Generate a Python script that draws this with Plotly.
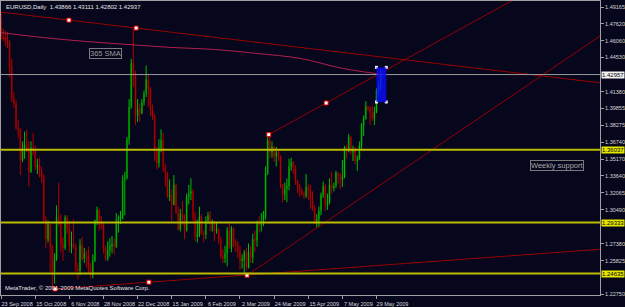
import plotly.graph_objects as go

# ---------------- data ----------------
tick_bars = [0, 16, 32, 48, 64, 80, 96, 112, 128, 144, 160, 176]
tick_dates = ["23 Sep 2008", "15 Oct 2008", "6 Nov 2008", "28 Nov 2008", "22 Dec 2008",
              "15 Jan 2009", "6 Feb 2009", "2 Mar 2009", "24 Mar 2009", "15 Apr 2009",
              "7 May 2009", "29 May 2009"]

opens = [1.4790, 1.4640, 1.4630, 1.4620, 1.4600, 1.4370, 1.4080, 1.4030, 1.3800, 1.3790,
         1.3510, 1.3610, 1.3650, 1.3600, 1.3400, 1.3620, 1.3610, 1.3450, 1.3460, 1.3410,
         1.3360, 1.2960, 1.2780, 1.2920, 1.2710, 1.2480, 1.2600, 1.2980, 1.2940, 1.2740,
         1.2700, 1.2980, 1.2880, 1.2720, 1.2730, 1.2710, 1.2500, 1.2490, 1.2730, 1.2600,
         1.2650, 1.2630, 1.2500, 1.2450, 1.2580, 1.2950, 1.3050, 1.2950, 1.2910, 1.2700,
         1.2600, 1.2680, 1.2720, 1.2730, 1.2710, 1.2950, 1.2970, 1.2980, 1.3320, 1.3340,
         1.3700, 1.4000, 1.4400, 1.4300, 1.3920, 1.3980, 1.3940, 1.4040, 1.4120, 1.4250,
         1.4160, 1.3970, 1.3920, 1.3590, 1.3480, 1.3620, 1.3690, 1.3430, 1.3390, 1.3170,
         1.3180, 1.3100, 1.3280, 1.3030, 1.2870, 1.3010, 1.2960, 1.2860, 1.3170, 1.3200,
         1.3220, 1.2980, 1.2800, 1.2830, 1.2990, 1.2840, 1.2820, 1.2950, 1.3000, 1.2920,
         1.2930, 1.2860, 1.2870, 1.2780, 1.2620, 1.2600, 1.2650, 1.2860, 1.2700, 1.2880,
         1.2750, 1.2720, 1.2670, 1.2580, 1.2590, 1.2660, 1.2520, 1.2660, 1.2610, 1.2780,
         1.2770, 1.2930, 1.2910, 1.2940, 1.3000, 1.3390, 1.3690, 1.3580, 1.3630, 1.3540,
         1.3580, 1.3550, 1.3280, 1.3190, 1.3240, 1.3270, 1.3450, 1.3490, 1.3440, 1.3320,
         1.3280, 1.3230, 1.3200, 1.3180, 1.3260, 1.3230, 1.3160, 1.3070, 1.2940, 1.2960,
         1.3040, 1.3190, 1.3270, 1.3090, 1.3120, 1.3280, 1.3250, 1.3270, 1.3390, 1.3370,
         1.3330, 1.3350, 1.3630, 1.3590, 1.3720, 1.3580, 1.3600, 1.3500, 1.3520, 1.3640,
         1.3830, 1.3890, 1.4000, 1.3990, 1.3940, 1.3890, 1.3950, 1.4150, 1.4170]
highs = [1.4866, 1.4720, 1.4700, 1.4690, 1.4610, 1.4440, 1.4130, 1.4060, 1.3880, 1.3800,
         1.3680, 1.3770, 1.3790, 1.3680, 1.3680, 1.3760, 1.3640, 1.3520, 1.3530, 1.3450,
         1.3380, 1.2990, 1.2950, 1.2920, 1.2730, 1.2650, 1.3090, 1.3300, 1.3010, 1.2800,
         1.3000, 1.3000, 1.2950, 1.2850, 1.2960, 1.2740, 1.2560, 1.2780, 1.2800, 1.2700,
         1.2680, 1.2710, 1.2560, 1.2640, 1.2960, 1.3080, 1.3060, 1.2990, 1.2930, 1.2720,
         1.2760, 1.2790, 1.2810, 1.2790, 1.3020, 1.3000, 1.3040, 1.3370, 1.3400, 1.3720,
         1.4070, 1.4440, 1.4720, 1.4330, 1.4070, 1.4030, 1.4070, 1.4150, 1.4380, 1.4300,
         1.4180, 1.4020, 1.3930, 1.3630, 1.3700, 1.3790, 1.3760, 1.3470, 1.3400, 1.3330,
         1.3240, 1.3370, 1.3290, 1.3080, 1.3060, 1.3130, 1.3010, 1.3200, 1.3280, 1.3340,
         1.3240, 1.3030, 1.2960, 1.3080, 1.3010, 1.2860, 1.2990, 1.3030, 1.3040, 1.2960,
         1.2950, 1.2940, 1.2880, 1.2800, 1.2690, 1.2720, 1.2890, 1.2920, 1.2900, 1.2890,
         1.2780, 1.2760, 1.2720, 1.2640, 1.2680, 1.2700, 1.2740, 1.2720, 1.2830, 1.2860,
         1.2950, 1.2990, 1.3020, 1.3040, 1.3450, 1.3740, 1.3730, 1.3680, 1.3640, 1.3630,
         1.3600, 1.3550, 1.3290, 1.3300, 1.3340, 1.3520, 1.3530, 1.3500, 1.3460, 1.3330,
         1.3290, 1.3250, 1.3220, 1.3380, 1.3290, 1.3280, 1.3220, 1.3090, 1.3010, 1.3080,
         1.3210, 1.3310, 1.3290, 1.3200, 1.3340, 1.3400, 1.3300, 1.3410, 1.3400, 1.3390,
         1.3510, 1.3640, 1.3650, 1.3750, 1.3730, 1.3640, 1.3630, 1.3550, 1.3680, 1.3850,
         1.3920, 1.4050, 1.4010, 1.4000, 1.4010, 1.4000, 1.4170, 1.4230, 1.4340]
lows = [1.4620, 1.4600, 1.4560, 1.4540, 1.4270, 1.4040, 1.3990, 1.3790, 1.3710, 1.3370,
        1.3490, 1.3520, 1.3580, 1.3260, 1.3390, 1.3550, 1.3420, 1.3380, 1.3350, 1.3300,
        1.2940, 1.2700, 1.2750, 1.2480, 1.2330, 1.2370, 1.2580, 1.2900, 1.2660, 1.2580,
        1.2680, 1.2830, 1.2660, 1.2650, 1.2690, 1.2480, 1.2410, 1.2450, 1.2580, 1.2560,
        1.2520, 1.2470, 1.2420, 1.2420, 1.2570, 1.2910, 1.2860, 1.2870, 1.2650, 1.2580,
        1.2580, 1.2620, 1.2650, 1.2640, 1.2700, 1.2840, 1.2920, 1.2960, 1.3000, 1.3330,
        1.3650, 1.3980, 1.4180, 1.3830, 1.3860, 1.3860, 1.3930, 1.4010, 1.4090, 1.4000,
        1.3910, 1.3880, 1.3500, 1.3420, 1.3440, 1.3580, 1.3400, 1.3260, 1.3160, 1.3130,
        1.2950, 1.3090, 1.3010, 1.2860, 1.2850, 1.2910, 1.2780, 1.2850, 1.3100, 1.3140,
        1.2950, 1.2760, 1.2750, 1.2800, 1.2820, 1.2750, 1.2780, 1.2920, 1.2850, 1.2850,
        1.2760, 1.2830, 1.2740, 1.2600, 1.2560, 1.2560, 1.2530, 1.2690, 1.2660, 1.2710,
        1.2660, 1.2610, 1.2500, 1.2510, 1.2460, 1.2490, 1.2510, 1.2560, 1.2560, 1.2660,
        1.2710, 1.2840, 1.2850, 1.2900, 1.2960, 1.3370, 1.3530, 1.3530, 1.3490, 1.3450,
        1.3500, 1.3250, 1.3120, 1.3140, 1.3120, 1.3230, 1.3410, 1.3380, 1.3280, 1.3200,
        1.3170, 1.3180, 1.3150, 1.3160, 1.3140, 1.3060, 1.3040, 1.2920, 1.2890, 1.2890,
        1.3000, 1.3160, 1.3040, 1.3050, 1.3100, 1.3200, 1.3220, 1.3250, 1.3290, 1.3240,
        1.3260, 1.3340, 1.3520, 1.3580, 1.3560, 1.3500, 1.3470, 1.3410, 1.3510, 1.3610,
        1.3730, 1.3880, 1.3960, 1.3830, 1.3870, 1.3830, 1.3940, 1.4110, 1.4150]
closes = [1.4640, 1.4630, 1.4620, 1.4600, 1.4370, 1.4080, 1.4030, 1.3800, 1.3790, 1.3510,
          1.3610, 1.3650, 1.3600, 1.3400, 1.3620, 1.3610, 1.3450, 1.3460, 1.3410, 1.3360,
          1.2960, 1.2780, 1.2920, 1.2710, 1.2480, 1.2600, 1.2980, 1.2940, 1.2740, 1.2700,
          1.2980, 1.2880, 1.2720, 1.2730, 1.2710, 1.2500, 1.2490, 1.2730, 1.2600, 1.2650,
          1.2630, 1.2500, 1.2450, 1.2580, 1.2950, 1.3050, 1.2950, 1.2910, 1.2700, 1.2600,
          1.2680, 1.2720, 1.2730, 1.2710, 1.2950, 1.2970, 1.2980, 1.3320, 1.3340, 1.3700,
          1.4000, 1.4400, 1.4300, 1.3920, 1.3980, 1.3940, 1.4040, 1.4120, 1.4250, 1.4160,
          1.3970, 1.3920, 1.3590, 1.3480, 1.3620, 1.3690, 1.3430, 1.3390, 1.3170, 1.3180,
          1.3100, 1.3280, 1.3030, 1.2870, 1.3010, 1.2960, 1.2860, 1.3170, 1.3200, 1.3220,
          1.2980, 1.2800, 1.2830, 1.2990, 1.2840, 1.2820, 1.2950, 1.3000, 1.2920, 1.2930,
          1.2860, 1.2870, 1.2780, 1.2620, 1.2600, 1.2650, 1.2860, 1.2700, 1.2880, 1.2750,
          1.2720, 1.2670, 1.2580, 1.2590, 1.2660, 1.2520, 1.2660, 1.2610, 1.2780, 1.2770,
          1.2930, 1.2910, 1.2940, 1.3000, 1.3390, 1.3690, 1.3580, 1.3630, 1.3540, 1.3580,
          1.3550, 1.3280, 1.3190, 1.3240, 1.3270, 1.3450, 1.3490, 1.3440, 1.3320, 1.3280,
          1.3230, 1.3200, 1.3180, 1.3260, 1.3230, 1.3160, 1.3070, 1.2940, 1.2960, 1.3040,
          1.3190, 1.3270, 1.3090, 1.3120, 1.3280, 1.3250, 1.3270, 1.3390, 1.3370, 1.3330,
          1.3350, 1.3630, 1.3590, 1.3720, 1.3580, 1.3600, 1.3500, 1.3520, 1.3640, 1.3830,
          1.3890, 1.4000, 1.3990, 1.3940, 1.3890, 1.3950, 1.4150, 1.4170, 1.4290]

# 365-period SMA, read at sampled bars
sma_bars = [0, 20, 40, 60, 80, 100, 120, 140, 160, 178]
sma_vals = [1.4682, 1.4636, 1.4600, 1.4572, 1.4545, 1.4527, 1.4490, 1.4445, 1.4353, 1.4299]

# price axis labels
y_ticks = [1.49165, 1.47620, 1.46060, 1.44530, 1.41380, 1.39855, 1.38275, 1.36740,
           1.35170, 1.33640, 1.32065, 1.30490, 1.27380, 1.25825, 1.22750]

support_levels = [1.36037, 1.29333, 1.24635]
current_price = 1.42957

# trend lines: (bar, price) anchors
upper_tl = [(31.8, 1.4797), (63.3, 1.4724)]
support_tl = [(25.3, 1.2321), (69.3, 1.2384)]
channel_low = [(115.3, 1.2448), (267.4, 1.4472)]
channel_up = [(125.5, 1.3743), (152.4, 1.4034)]
anchor_dots = upper_tl + support_tl + [channel_low[0]] + channel_up

rect_bars = [176.0, 180.6]
rect_prices = [1.4043, 1.4362]

X_MIN, X_MAX = -0.05, 280.8
Y_MIN, Y_MAX = 1.2266, 1.4973

BG = "#06061C"
FONT = "Liberation Sans"

fig = go.Figure()

# candle bodies
up = [i for i in range(len(closes)) if closes[i] >= opens[i]]
dn = [i for i in range(len(closes)) if closes[i] < opens[i]]
for idx, body_col in ((up, "#005A00"), (dn, "#640000")):
    fig.add_trace(go.Bar(
        x=idx,
        base=[min(opens[i], closes[i]) for i in idx],
        y=[max(abs(closes[i] - opens[i]), 0.0004) for i in idx],
        width=0.95, marker=dict(color=body_col, line=dict(width=0)),
        hoverinfo="skip", showlegend=False))

# wicks
for idx, wick_col in ((up, "#00BE00"), (dn, "#B40000")):
    xs, ys = [], []
    for i in idx:
        xs += [i, i, None]
        ys += [lows[i], highs[i], None]
    fig.add_trace(go.Scatter(x=xs, y=ys, mode="lines",
                             line=dict(color=wick_col, width=1),
                             hoverinfo="skip", showlegend=False))

# SMA
fig.add_trace(go.Scatter(x=sma_bars, y=sma_vals, mode="lines",
                         line=dict(color="#B0204C", width=1, shape="spline"),
                         hoverinfo="skip", showlegend=False))


def ray(anchors, x_start, x_end):
    (x1, y1), (x2, y2) = anchors
    k = (y2 - y1) / (x2 - x1)
    return [x_start, x_end], [y1 + k * (x_start - x1), y1 + k * (x_end - x1)]


for anchors, start in ((upper_tl, X_MIN - 2), (support_tl, support_tl[0][0]),
                       (channel_low, channel_low[0][0]), (channel_up, channel_up[0][0])):
    xs, ys = ray(anchors, start, X_MAX + 2)
    fig.add_trace(go.Scatter(x=xs, y=ys, mode="lines",
                             line=dict(color="#960000", width=1),
                             hoverinfo="skip", showlegend=False))

# anchor dots
fig.add_trace(go.Scatter(x=[a[0] for a in anchor_dots], y=[a[1] for a in anchor_dots],
                         mode="markers",
                         marker=dict(symbol="square", size=4, color="#FFFFFF",
                                     line=dict(color="#E00000", width=1)),
                         hoverinfo="skip", showlegend=False))

shapes = []
for lvl in support_levels:
    shapes.append(dict(type="line", xref="paper", x0=0, x1=1, yref="y", y0=lvl, y1=lvl,
                       line=dict(color="#BDBD00", width=2)))
shapes.append(dict(type="line", xref="paper", x0=0, x1=1, yref="y",
                   y0=current_price, y1=current_price,
                   line=dict(color="#9A9A9A", width=1)))
shapes.append(dict(type="rect", xref="x", yref="y", x0=rect_bars[0], x1=rect_bars[1],
                   y0=rect_prices[0], y1=rect_prices[1], fillcolor="rgba(10,10,255,0.82)",
                   line=dict(width=0), layer="above"))
fig.update_layout(shapes=shapes)

# rectangle handles
fig.add_trace(go.Scatter(x=[rect_bars[0], rect_bars[1], rect_bars[0], rect_bars[1]],
                         y=[rect_prices[0], rect_prices[0], rect_prices[1], rect_prices[1]],
                         mode="markers",
                         marker=dict(symbol="square", size=3, color="#E8E8FF",
                                     line=dict(width=0)),
                         hoverinfo="skip", showlegend=False))

annotations = [
    dict(text="EURUSD,Daily  1.43866 1.43111 1.42802 1.42937", xref="paper", yref="paper",
         x=0, y=1, xanchor="left", yanchor="top", xshift=3, yshift=-1, showarrow=False,
         font=dict(family=FONT, size=6, color="#E6E6E6")),
    dict(text="MetaTrader, © 2001-2009 MetaQuotes Software Corp.", xref="paper", yref="paper",
         x=0, y=0, xanchor="left", yanchor="bottom", xshift=2, yshift=2, showarrow=False,
         font=dict(family=FONT, size=6, color="#E6E6E6")),
    dict(text="365 SMA", xref="x", yref="y", x=41.0, y=1.4536, xanchor="left", yanchor="top",
         showarrow=False, bordercolor="#7A7A7A", borderwidth=1, borderpad=0,
         font=dict(family=FONT, size=7.5, color="#9A9A9A")),
    dict(text="Weekly support", xref="x", yref="y", x=248.0, y=1.3506, xanchor="left",
         yanchor="top", showarrow=False, bordercolor="#7A7A7A", borderwidth=1, borderpad=0,
         font=dict(family=FONT, size=7.5, color="#A8A8A8")),
]
for lvl in support_levels:
    annotations.append(dict(text=f"{lvl:.5f}", xref="paper", yref="y", x=1, y=lvl,
                            xanchor="left", yanchor="middle", xshift=1, showarrow=False,
                            bgcolor="#E6E600", borderpad=0,
                            font=dict(family=FONT, size=6, color="#000000")))
annotations.append(dict(text=f"{current_price:.5f}", xref="paper", yref="y", x=1,
                        y=current_price, xanchor="left", yanchor="middle", xshift=1,
                        showarrow=False, bgcolor="#F2F2F2", borderpad=0,
                        font=dict(family=FONT, size=6, color="#000000")))

fig.update_layout(
    width=625, height=307,
    margin=dict(l=1, r=21, t=0, b=10, pad=0),
    paper_bgcolor=BG, plot_bgcolor=BG,
    barmode="overlay",
    showlegend=False,
    annotations=annotations,
    xaxis=dict(range=[X_MIN, X_MAX], tickmode="array", tickvals=tick_bars, ticktext=tick_dates,
               tickfont=dict(family=FONT, size=5.5, color="#D8D8D8"),
               ticks="outside", ticklen=3, tickcolor="#A0A0A0", ticklabelshift=16,
               ticklabeloverflow="allow",
               showline=True, linecolor="#A0A0A0", linewidth=1, mirror=True,
               showgrid=False, zeroline=False, fixedrange=True),
    yaxis=dict(range=[Y_MIN, Y_MAX], side="right", tickmode="array", tickvals=y_ticks,
               ticktext=[f"{v:.5f}" for v in y_ticks],
               tickfont=dict(family=FONT, size=5.5, color="#D8D8D8"),
               ticks="outside", ticklen=3, tickcolor="#A0A0A0",
               showline=True, linecolor="#A0A0A0", linewidth=1, mirror=True,
               showgrid=False, zeroline=False, fixedrange=True),
)

fig.write_html("out.html")
